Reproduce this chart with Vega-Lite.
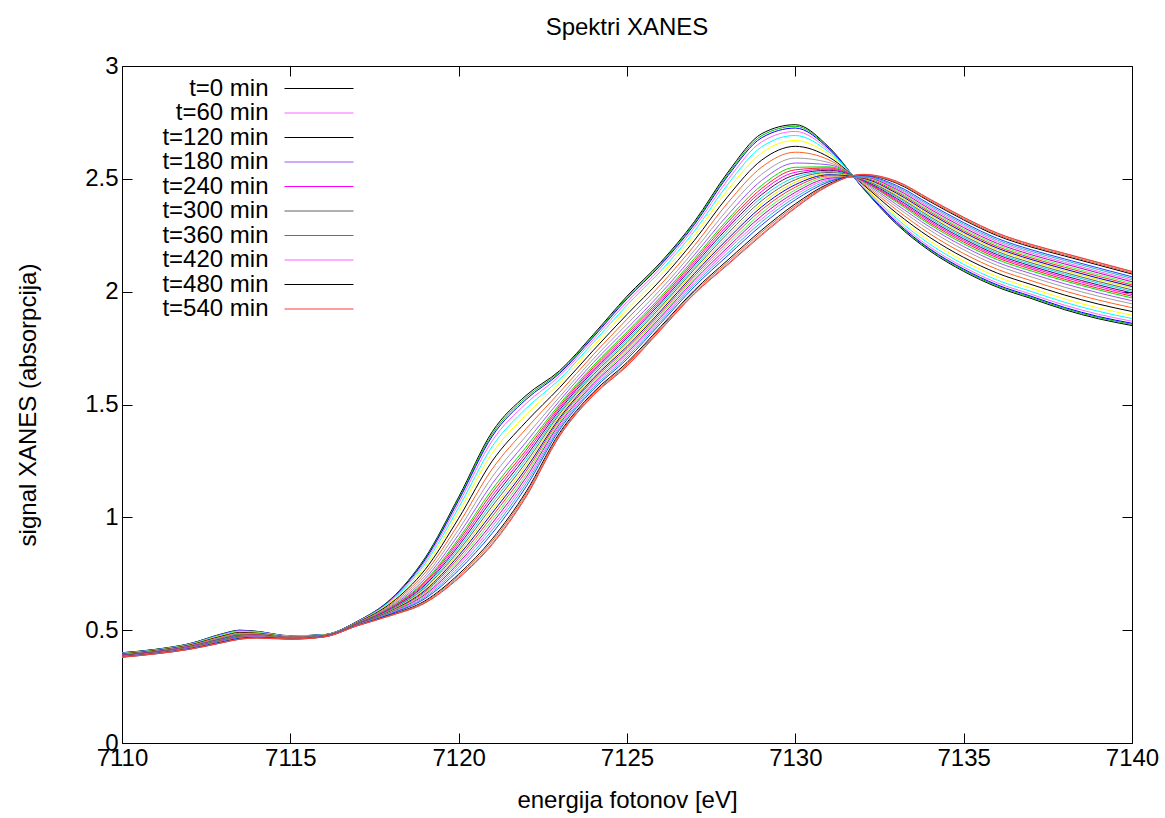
{
"$schema": "https://vega.github.io/schema/vega-lite/v6.json",
"width": 1010, "height": 677,
"autosize": {"type": "none"},
"padding": {"left": 122, "top": 66, "right": 33, "bottom": 75},
"background": "white",
"title": {"text": "Spektri XANES", "fontSize": 24, "font": "Liberation Sans", "fontWeight": "normal", "color": "black", "offset": 14, "anchor": "middle"},
"config": {"view": {"stroke": null}, "font": "Liberation Sans"},
"data": {"values": [
{"s":0,"x":7110,"y":0.4},{"s":0,"x":7111,"y":0.415},{"s":0,"x":7112,"y":0.44},{"s":0,"x":7113,"y":0.485},{"s":0,"x":7113.5,"y":0.5},{"s":0,"x":7114,"y":0.495},{"s":0,"x":7115,"y":0.475},{"s":0,"x":7116,"y":0.48},{"s":0,"x":7117,"y":0.54},{"s":0,"x":7118,"y":0.64},{"s":0,"x":7119,"y":0.82},{"s":0,"x":7120,"y":1.09},{"s":0,"x":7121,"y":1.38},{"s":0,"x":7122,"y":1.54},{"s":0,"x":7123,"y":1.65},{"s":0,"x":7124,"y":1.81},{"s":0,"x":7125,"y":1.98},{"s":0,"x":7126,"y":2.13},{"s":0,"x":7127,"y":2.31},{"s":0,"x":7128,"y":2.53},{"s":0,"x":7129,"y":2.7},{"s":0,"x":7130,"y":2.74},{"s":0,"x":7131,"y":2.64},{"s":0,"x":7132,"y":2.46},{"s":0,"x":7133,"y":2.3},{"s":0,"x":7134,"y":2.18},{"s":0,"x":7135,"y":2.09},{"s":0,"x":7136,"y":2.02},{"s":0,"x":7137,"y":1.97},{"s":0,"x":7138,"y":1.92},{"s":0,"x":7139,"y":1.88},{"s":0,"x":7140,"y":1.85},
{"s":1,"x":7110,"y":0.4},{"s":1,"x":7111,"y":0.415},{"s":1,"x":7112,"y":0.44},{"s":1,"x":7113,"y":0.484},{"s":1,"x":7113.5,"y":0.499},{"s":1,"x":7114,"y":0.494},{"s":1,"x":7115,"y":0.475},{"s":1,"x":7116,"y":0.48},{"s":1,"x":7117,"y":0.54},{"s":1,"x":7118,"y":0.638},{"s":1,"x":7119,"y":0.816},{"s":1,"x":7120,"y":1.083},{"s":1,"x":7121,"y":1.37},{"s":1,"x":7122,"y":1.531},{"s":1,"x":7123,"y":1.644},{"s":1,"x":7124,"y":1.805},{"s":1,"x":7125,"y":1.974},{"s":1,"x":7126,"y":2.124},{"s":1,"x":7127,"y":2.304},{"s":1,"x":7128,"y":2.522},{"s":1,"x":7129,"y":2.691},{"s":1,"x":7130,"y":2.733},{"s":1,"x":7131,"y":2.637},{"s":1,"x":7132,"y":2.461},{"s":1,"x":7133,"y":2.304},{"s":1,"x":7134,"y":2.185},{"s":1,"x":7135,"y":2.095},{"s":1,"x":7136,"y":2.025},{"s":1,"x":7137,"y":1.975},{"s":1,"x":7138,"y":1.925},{"s":1,"x":7139,"y":1.885},{"s":1,"x":7140,"y":1.855},
{"s":2,"x":7110,"y":0.399},{"s":2,"x":7111,"y":0.414},{"s":2,"x":7112,"y":0.439},{"s":2,"x":7113,"y":0.483},{"s":2,"x":7113.5,"y":0.498},{"s":2,"x":7114,"y":0.494},{"s":2,"x":7115,"y":0.474},{"s":2,"x":7116,"y":0.48},{"s":2,"x":7117,"y":0.539},{"s":2,"x":7118,"y":0.637},{"s":2,"x":7119,"y":0.812},{"s":2,"x":7120,"y":1.076},{"s":2,"x":7121,"y":1.36},{"s":2,"x":7122,"y":1.522},{"s":2,"x":7123,"y":1.638},{"s":2,"x":7124,"y":1.799},{"s":2,"x":7125,"y":1.968},{"s":2,"x":7126,"y":2.118},{"s":2,"x":7127,"y":2.297},{"s":2,"x":7128,"y":2.514},{"s":2,"x":7129,"y":2.682},{"s":2,"x":7130,"y":2.725},{"s":2,"x":7131,"y":2.633},{"s":2,"x":7132,"y":2.462},{"s":2,"x":7133,"y":2.308},{"s":2,"x":7134,"y":2.189},{"s":2,"x":7135,"y":2.1},{"s":2,"x":7136,"y":2.03},{"s":2,"x":7137,"y":1.98},{"s":2,"x":7138,"y":1.93},{"s":2,"x":7139,"y":1.89},{"s":2,"x":7140,"y":1.86},
{"s":3,"x":7110,"y":0.398},{"s":3,"x":7111,"y":0.413},{"s":3,"x":7112,"y":0.438},{"s":3,"x":7113,"y":0.482},{"s":3,"x":7113.5,"y":0.497},{"s":3,"x":7114,"y":0.493},{"s":3,"x":7115,"y":0.474},{"s":3,"x":7116,"y":0.479},{"s":3,"x":7117,"y":0.538},{"s":3,"x":7118,"y":0.634},{"s":3,"x":7119,"y":0.804},{"s":3,"x":7120,"y":1.061},{"s":3,"x":7121,"y":1.34},{"s":3,"x":7122,"y":1.504},{"s":3,"x":7123,"y":1.627},{"s":3,"x":7124,"y":1.788},{"s":3,"x":7125,"y":1.955},{"s":3,"x":7126,"y":2.106},{"s":3,"x":7127,"y":2.284},{"s":3,"x":7128,"y":2.497},{"s":3,"x":7129,"y":2.664},{"s":3,"x":7130,"y":2.71},{"s":3,"x":7131,"y":2.626},{"s":3,"x":7132,"y":2.465},{"s":3,"x":7133,"y":2.315},{"s":3,"x":7134,"y":2.198},{"s":3,"x":7135,"y":2.109},{"s":3,"x":7136,"y":2.039},{"s":3,"x":7137,"y":1.989},{"s":3,"x":7138,"y":1.94},{"s":3,"x":7139,"y":1.9},{"s":3,"x":7140,"y":1.869},
{"s":4,"x":7110,"y":0.397},{"s":4,"x":7111,"y":0.412},{"s":4,"x":7112,"y":0.437},{"s":4,"x":7113,"y":0.48},{"s":4,"x":7113.5,"y":0.495},{"s":4,"x":7114,"y":0.491},{"s":4,"x":7115,"y":0.473},{"s":4,"x":7116,"y":0.479},{"s":4,"x":7117,"y":0.537},{"s":4,"x":7118,"y":0.63},{"s":4,"x":7119,"y":0.794},{"s":4,"x":7120,"y":1.043},{"s":4,"x":7121,"y":1.315},{"s":4,"x":7122,"y":1.482},{"s":4,"x":7123,"y":1.612},{"s":4,"x":7124,"y":1.775},{"s":4,"x":7125,"y":1.94},{"s":4,"x":7126,"y":2.091},{"s":4,"x":7127,"y":2.268},{"s":4,"x":7128,"y":2.477},{"s":4,"x":7129,"y":2.642},{"s":4,"x":7130,"y":2.692},{"s":4,"x":7131,"y":2.618},{"s":4,"x":7132,"y":2.468},{"s":4,"x":7133,"y":2.325},{"s":4,"x":7134,"y":2.21},{"s":4,"x":7135,"y":2.121},{"s":4,"x":7136,"y":2.051},{"s":4,"x":7137,"y":2.001},{"s":4,"x":7138,"y":1.953},{"s":4,"x":7139,"y":1.913},{"s":4,"x":7140,"y":1.881},
{"s":5,"x":7110,"y":0.396},{"s":5,"x":7111,"y":0.411},{"s":5,"x":7112,"y":0.435},{"s":5,"x":7113,"y":0.477},{"s":5,"x":7113.5,"y":0.492},{"s":5,"x":7114,"y":0.489},{"s":5,"x":7115,"y":0.472},{"s":5,"x":7116,"y":0.478},{"s":5,"x":7117,"y":0.536},{"s":5,"x":7118,"y":0.626},{"s":5,"x":7119,"y":0.782},{"s":5,"x":7120,"y":1.022},{"s":5,"x":7121,"y":1.285},{"s":5,"x":7122,"y":1.455},{"s":5,"x":7123,"y":1.595},{"s":5,"x":7124,"y":1.759},{"s":5,"x":7125,"y":1.921},{"s":5,"x":7126,"y":2.073},{"s":5,"x":7127,"y":2.249},{"s":5,"x":7128,"y":2.452},{"s":5,"x":7129,"y":2.615},{"s":5,"x":7130,"y":2.67},{"s":5,"x":7131,"y":2.608},{"s":5,"x":7132,"y":2.471},{"s":5,"x":7133,"y":2.336},{"s":5,"x":7134,"y":2.224},{"s":5,"x":7135,"y":2.136},{"s":5,"x":7136,"y":2.066},{"s":5,"x":7137,"y":2.016},{"s":5,"x":7138,"y":1.968},{"s":5,"x":7139,"y":1.928},{"s":5,"x":7140,"y":1.896},
{"s":6,"x":7110,"y":0.395},{"s":6,"x":7111,"y":0.41},{"s":6,"x":7112,"y":0.434},{"s":6,"x":7113,"y":0.475},{"s":6,"x":7113.5,"y":0.49},{"s":6,"x":7114,"y":0.487},{"s":6,"x":7115,"y":0.471},{"s":6,"x":7116,"y":0.477},{"s":6,"x":7117,"y":0.535},{"s":6,"x":7118,"y":0.621},{"s":6,"x":7119,"y":0.768},{"s":6,"x":7120,"y":0.996},{"s":6,"x":7121,"y":1.25},{"s":6,"x":7122,"y":1.423},{"s":6,"x":7123,"y":1.575},{"s":6,"x":7124,"y":1.74},{"s":6,"x":7125,"y":1.899},{"s":6,"x":7126,"y":2.052},{"s":6,"x":7127,"y":2.227},{"s":6,"x":7128,"y":2.423},{"s":6,"x":7129,"y":2.583},{"s":6,"x":7130,"y":2.644},{"s":6,"x":7131,"y":2.596},{"s":6,"x":7132,"y":2.476},{"s":6,"x":7133,"y":2.349},{"s":6,"x":7134,"y":2.24},{"s":6,"x":7135,"y":2.152},{"s":6,"x":7136,"y":2.082},{"s":6,"x":7137,"y":2.032},{"s":6,"x":7138,"y":1.985},{"s":6,"x":7139,"y":1.945},{"s":6,"x":7140,"y":1.912},
{"s":7,"x":7110,"y":0.393},{"s":7,"x":7111,"y":0.408},{"s":7,"x":7112,"y":0.432},{"s":7,"x":7113,"y":0.472},{"s":7,"x":7113.5,"y":0.487},{"s":7,"x":7114,"y":0.485},{"s":7,"x":7115,"y":0.47},{"s":7,"x":7116,"y":0.477},{"s":7,"x":7117,"y":0.533},{"s":7,"x":7118,"y":0.615},{"s":7,"x":7119,"y":0.754},{"s":7,"x":7120,"y":0.971},{"s":7,"x":7121,"y":1.215},{"s":7,"x":7122,"y":1.392},{"s":7,"x":7123,"y":1.554},{"s":7,"x":7124,"y":1.721},{"s":7,"x":7125,"y":1.878},{"s":7,"x":7126,"y":2.031},{"s":7,"x":7127,"y":2.204},{"s":7,"x":7128,"y":2.395},{"s":7,"x":7129,"y":2.552},{"s":7,"x":7130,"y":2.618},{"s":7,"x":7131,"y":2.584},{"s":7,"x":7132,"y":2.48},{"s":7,"x":7133,"y":2.363},{"s":7,"x":7134,"y":2.256},{"s":7,"x":7135,"y":2.169},{"s":7,"x":7136,"y":2.099},{"s":7,"x":7137,"y":2.049},{"s":7,"x":7138,"y":2.003},{"s":7,"x":7139,"y":1.963},{"s":7,"x":7140,"y":1.929},
{"s":8,"x":7110,"y":0.392},{"s":8,"x":7111,"y":0.407},{"s":8,"x":7112,"y":0.43},{"s":8,"x":7113,"y":0.469},{"s":8,"x":7113.5,"y":0.484},{"s":8,"x":7114,"y":0.483},{"s":8,"x":7115,"y":0.469},{"s":8,"x":7116,"y":0.476},{"s":8,"x":7117,"y":0.532},{"s":8,"x":7118,"y":0.61},{"s":8,"x":7119,"y":0.74},{"s":8,"x":7120,"y":0.946},{"s":8,"x":7121,"y":1.18},{"s":8,"x":7122,"y":1.36},{"s":8,"x":7123,"y":1.534},{"s":8,"x":7124,"y":1.702},{"s":8,"x":7125,"y":1.856},{"s":8,"x":7126,"y":2.01},{"s":8,"x":7127,"y":2.182},{"s":8,"x":7128,"y":2.366},{"s":8,"x":7129,"y":2.52},{"s":8,"x":7130,"y":2.592},{"s":8,"x":7131,"y":2.572},{"s":8,"x":7132,"y":2.484},{"s":8,"x":7133,"y":2.376},{"s":8,"x":7134,"y":2.272},{"s":8,"x":7135,"y":2.186},{"s":8,"x":7136,"y":2.116},{"s":8,"x":7137,"y":2.066},{"s":8,"x":7138,"y":2.02},{"s":8,"x":7139,"y":1.98},{"s":8,"x":7140,"y":1.946},
{"s":9,"x":7110,"y":0.391},{"s":9,"x":7111,"y":0.406},{"s":9,"x":7112,"y":0.429},{"s":9,"x":7113,"y":0.467},{"s":9,"x":7113.5,"y":0.482},{"s":9,"x":7114,"y":0.481},{"s":9,"x":7115,"y":0.468},{"s":9,"x":7116,"y":0.475},{"s":9,"x":7117,"y":0.531},{"s":9,"x":7118,"y":0.606},{"s":9,"x":7119,"y":0.728},{"s":9,"x":7120,"y":0.924},{"s":9,"x":7121,"y":1.15},{"s":9,"x":7122,"y":1.333},{"s":9,"x":7123,"y":1.517},{"s":9,"x":7124,"y":1.686},{"s":9,"x":7125,"y":1.837},{"s":9,"x":7126,"y":1.992},{"s":9,"x":7127,"y":2.163},{"s":9,"x":7128,"y":2.341},{"s":9,"x":7129,"y":2.493},{"s":9,"x":7130,"y":2.57},{"s":9,"x":7131,"y":2.562},{"s":9,"x":7132,"y":2.488},{"s":9,"x":7133,"y":2.387},{"s":9,"x":7134,"y":2.286},{"s":9,"x":7135,"y":2.2},{"s":9,"x":7136,"y":2.13},{"s":9,"x":7137,"y":2.08},{"s":9,"x":7138,"y":2.035},{"s":9,"x":7139,"y":1.995},{"s":9,"x":7140,"y":1.96},
{"s":10,"x":7110,"y":0.39},{"s":10,"x":7111,"y":0.405},{"s":10,"x":7112,"y":0.427},{"s":10,"x":7113,"y":0.465},{"s":10,"x":7113.5,"y":0.48},{"s":10,"x":7114,"y":0.48},{"s":10,"x":7115,"y":0.467},{"s":10,"x":7116,"y":0.475},{"s":10,"x":7117,"y":0.53},{"s":10,"x":7118,"y":0.602},{"s":10,"x":7119,"y":0.718},{"s":10,"x":7120,"y":0.906},{"s":10,"x":7121,"y":1.125},{"s":10,"x":7122,"y":1.311},{"s":10,"x":7123,"y":1.502},{"s":10,"x":7124,"y":1.672},{"s":10,"x":7125,"y":1.822},{"s":10,"x":7126,"y":1.977},{"s":10,"x":7127,"y":2.147},{"s":10,"x":7128,"y":2.321},{"s":10,"x":7129,"y":2.471},{"s":10,"x":7130,"y":2.551},{"s":10,"x":7131,"y":2.553},{"s":10,"x":7132,"y":2.491},{"s":10,"x":7133,"y":2.397},{"s":10,"x":7134,"y":2.297},{"s":10,"x":7135,"y":2.212},{"s":10,"x":7136,"y":2.142},{"s":10,"x":7137,"y":2.092},{"s":10,"x":7138,"y":2.048},{"s":10,"x":7139,"y":2.008},{"s":10,"x":7140,"y":1.972},
{"s":11,"x":7110,"y":0.389},{"s":11,"x":7111,"y":0.404},{"s":11,"x":7112,"y":0.427},{"s":11,"x":7113,"y":0.463},{"s":11,"x":7113.5,"y":0.478},{"s":11,"x":7114,"y":0.479},{"s":11,"x":7115,"y":0.467},{"s":11,"x":7116,"y":0.475},{"s":11,"x":7117,"y":0.529},{"s":11,"x":7118,"y":0.6},{"s":11,"x":7119,"y":0.712},{"s":11,"x":7120,"y":0.896},{"s":11,"x":7121,"y":1.11},{"s":11,"x":7122,"y":1.297},{"s":11,"x":7123,"y":1.493},{"s":11,"x":7124,"y":1.664},{"s":11,"x":7125,"y":1.813},{"s":11,"x":7126,"y":1.968},{"s":11,"x":7127,"y":2.137},{"s":11,"x":7128,"y":2.309},{"s":11,"x":7129,"y":2.457},{"s":11,"x":7130,"y":2.54},{"s":11,"x":7131,"y":2.548},{"s":11,"x":7132,"y":2.492},{"s":11,"x":7133,"y":2.403},{"s":11,"x":7134,"y":2.304},{"s":11,"x":7135,"y":2.22},{"s":11,"x":7136,"y":2.15},{"s":11,"x":7137,"y":2.1},{"s":11,"x":7138,"y":2.055},{"s":11,"x":7139,"y":2.015},{"s":11,"x":7140,"y":1.98},
{"s":12,"x":7110,"y":0.389},{"s":12,"x":7111,"y":0.404},{"s":12,"x":7112,"y":0.426},{"s":12,"x":7113,"y":0.462},{"s":12,"x":7113.5,"y":0.477},{"s":12,"x":7114,"y":0.478},{"s":12,"x":7115,"y":0.466},{"s":12,"x":7116,"y":0.474},{"s":12,"x":7117,"y":0.529},{"s":12,"x":7118,"y":0.597},{"s":12,"x":7119,"y":0.706},{"s":12,"x":7120,"y":0.885},{"s":12,"x":7121,"y":1.095},{"s":12,"x":7122,"y":1.284},{"s":12,"x":7123,"y":1.485},{"s":12,"x":7124,"y":1.656},{"s":12,"x":7125,"y":1.803},{"s":12,"x":7126,"y":1.959},{"s":12,"x":7127,"y":2.128},{"s":12,"x":7128,"y":2.296},{"s":12,"x":7129,"y":2.444},{"s":12,"x":7130,"y":2.529},{"s":12,"x":7131,"y":2.543},{"s":12,"x":7132,"y":2.494},{"s":12,"x":7133,"y":2.408},{"s":12,"x":7134,"y":2.311},{"s":12,"x":7135,"y":2.227},{"s":12,"x":7136,"y":2.157},{"s":12,"x":7137,"y":2.107},{"s":12,"x":7138,"y":2.063},{"s":12,"x":7139,"y":2.023},{"s":12,"x":7140,"y":1.987},
{"s":13,"x":7110,"y":0.388},{"s":13,"x":7111,"y":0.403},{"s":13,"x":7112,"y":0.425},{"s":13,"x":7113,"y":0.461},{"s":13,"x":7113.5,"y":0.476},{"s":13,"x":7114,"y":0.477},{"s":13,"x":7115,"y":0.466},{"s":13,"x":7116,"y":0.474},{"s":13,"x":7117,"y":0.528},{"s":13,"x":7118,"y":0.595},{"s":13,"x":7119,"y":0.7},{"s":13,"x":7120,"y":0.874},{"s":13,"x":7121,"y":1.08},{"s":13,"x":7122,"y":1.27},{"s":13,"x":7123,"y":1.476},{"s":13,"x":7124,"y":1.648},{"s":13,"x":7125,"y":1.794},{"s":13,"x":7126,"y":1.95},{"s":13,"x":7127,"y":2.118},{"s":13,"x":7128,"y":2.284},{"s":13,"x":7129,"y":2.43},{"s":13,"x":7130,"y":2.518},{"s":13,"x":7131,"y":2.538},{"s":13,"x":7132,"y":2.496},{"s":13,"x":7133,"y":2.414},{"s":13,"x":7134,"y":2.318},{"s":13,"x":7135,"y":2.234},{"s":13,"x":7136,"y":2.164},{"s":13,"x":7137,"y":2.114},{"s":13,"x":7138,"y":2.07},{"s":13,"x":7139,"y":2.03},{"s":13,"x":7140,"y":1.994},
{"s":14,"x":7110,"y":0.387},{"s":14,"x":7111,"y":0.402},{"s":14,"x":7112,"y":0.424},{"s":14,"x":7113,"y":0.46},{"s":14,"x":7113.5,"y":0.475},{"s":14,"x":7114,"y":0.476},{"s":14,"x":7115,"y":0.466},{"s":14,"x":7116,"y":0.474},{"s":14,"x":7117,"y":0.527},{"s":14,"x":7118,"y":0.593},{"s":14,"x":7119,"y":0.694},{"s":14,"x":7120,"y":0.863},{"s":14,"x":7121,"y":1.065},{"s":14,"x":7122,"y":1.257},{"s":14,"x":7123,"y":1.467},{"s":14,"x":7124,"y":1.64},{"s":14,"x":7125,"y":1.785},{"s":14,"x":7126,"y":1.941},{"s":14,"x":7127,"y":2.108},{"s":14,"x":7128,"y":2.272},{"s":14,"x":7129,"y":2.417},{"s":14,"x":7130,"y":2.507},{"s":14,"x":7131,"y":2.533},{"s":14,"x":7132,"y":2.498},{"s":14,"x":7133,"y":2.42},{"s":14,"x":7134,"y":2.325},{"s":14,"x":7135,"y":2.241},{"s":14,"x":7136,"y":2.171},{"s":14,"x":7137,"y":2.121},{"s":14,"x":7138,"y":2.078},{"s":14,"x":7139,"y":2.038},{"s":14,"x":7140,"y":2.001},
{"s":15,"x":7110,"y":0.387},{"s":15,"x":7111,"y":0.402},{"s":15,"x":7112,"y":0.424},{"s":15,"x":7113,"y":0.459},{"s":15,"x":7113.5,"y":0.474},{"s":15,"x":7114,"y":0.475},{"s":15,"x":7115,"y":0.465},{"s":15,"x":7116,"y":0.473},{"s":15,"x":7117,"y":0.527},{"s":15,"x":7118,"y":0.591},{"s":15,"x":7119,"y":0.688},{"s":15,"x":7120,"y":0.852},{"s":15,"x":7121,"y":1.05},{"s":15,"x":7122,"y":1.243},{"s":15,"x":7123,"y":1.459},{"s":15,"x":7124,"y":1.632},{"s":15,"x":7125,"y":1.775},{"s":15,"x":7126,"y":1.932},{"s":15,"x":7127,"y":2.099},{"s":15,"x":7128,"y":2.259},{"s":15,"x":7129,"y":2.403},{"s":15,"x":7130,"y":2.496},{"s":15,"x":7131,"y":2.528},{"s":15,"x":7132,"y":2.5},{"s":15,"x":7133,"y":2.425},{"s":15,"x":7134,"y":2.332},{"s":15,"x":7135,"y":2.248},{"s":15,"x":7136,"y":2.178},{"s":15,"x":7137,"y":2.128},{"s":15,"x":7138,"y":2.085},{"s":15,"x":7139,"y":2.045},{"s":15,"x":7140,"y":2.008},
{"s":16,"x":7110,"y":0.386},{"s":16,"x":7111,"y":0.401},{"s":16,"x":7112,"y":0.423},{"s":16,"x":7113,"y":0.457},{"s":16,"x":7113.5,"y":0.472},{"s":16,"x":7114,"y":0.474},{"s":16,"x":7115,"y":0.465},{"s":16,"x":7116,"y":0.473},{"s":16,"x":7117,"y":0.526},{"s":16,"x":7118,"y":0.588},{"s":16,"x":7119,"y":0.682},{"s":16,"x":7120,"y":0.842},{"s":16,"x":7121,"y":1.035},{"s":16,"x":7122,"y":1.23},{"s":16,"x":7123,"y":1.45},{"s":16,"x":7124,"y":1.624},{"s":16,"x":7125,"y":1.766},{"s":16,"x":7126,"y":1.923},{"s":16,"x":7127,"y":2.089},{"s":16,"x":7128,"y":2.247},{"s":16,"x":7129,"y":2.39},{"s":16,"x":7130,"y":2.485},{"s":16,"x":7131,"y":2.523},{"s":16,"x":7132,"y":2.501},{"s":16,"x":7133,"y":2.431},{"s":16,"x":7134,"y":2.339},{"s":16,"x":7135,"y":2.256},{"s":16,"x":7136,"y":2.186},{"s":16,"x":7137,"y":2.136},{"s":16,"x":7138,"y":2.093},{"s":16,"x":7139,"y":2.053},{"s":16,"x":7140,"y":2.016},
{"s":17,"x":7110,"y":0.386},{"s":17,"x":7111,"y":0.401},{"s":17,"x":7112,"y":0.422},{"s":17,"x":7113,"y":0.456},{"s":17,"x":7113.5,"y":0.471},{"s":17,"x":7114,"y":0.473},{"s":17,"x":7115,"y":0.464},{"s":17,"x":7116,"y":0.473},{"s":17,"x":7117,"y":0.526},{"s":17,"x":7118,"y":0.586},{"s":17,"x":7119,"y":0.676},{"s":17,"x":7120,"y":0.831},{"s":17,"x":7121,"y":1.02},{"s":17,"x":7122,"y":1.216},{"s":17,"x":7123,"y":1.441},{"s":17,"x":7124,"y":1.616},{"s":17,"x":7125,"y":1.757},{"s":17,"x":7126,"y":1.914},{"s":17,"x":7127,"y":2.08},{"s":17,"x":7128,"y":2.235},{"s":17,"x":7129,"y":2.376},{"s":17,"x":7130,"y":2.474},{"s":17,"x":7131,"y":2.518},{"s":17,"x":7132,"y":2.503},{"s":17,"x":7133,"y":2.437},{"s":17,"x":7134,"y":2.346},{"s":17,"x":7135,"y":2.263},{"s":17,"x":7136,"y":2.193},{"s":17,"x":7137,"y":2.143},{"s":17,"x":7138,"y":2.1},{"s":17,"x":7139,"y":2.06},{"s":17,"x":7140,"y":2.023},
{"s":18,"x":7110,"y":0.385},{"s":18,"x":7111,"y":0.4},{"s":18,"x":7112,"y":0.421},{"s":18,"x":7113,"y":0.455},{"s":18,"x":7113.5,"y":0.47},{"s":18,"x":7114,"y":0.473},{"s":18,"x":7115,"y":0.464},{"s":18,"x":7116,"y":0.473},{"s":18,"x":7117,"y":0.525},{"s":18,"x":7118,"y":0.584},{"s":18,"x":7119,"y":0.67},{"s":18,"x":7120,"y":0.82},{"s":18,"x":7121,"y":1.005},{"s":18,"x":7122,"y":1.203},{"s":18,"x":7123,"y":1.433},{"s":18,"x":7124,"y":1.608},{"s":18,"x":7125,"y":1.748},{"s":18,"x":7126,"y":1.905},{"s":18,"x":7127,"y":2.07},{"s":18,"x":7128,"y":2.223},{"s":18,"x":7129,"y":2.363},{"s":18,"x":7130,"y":2.463},{"s":18,"x":7131,"y":2.513},{"s":18,"x":7132,"y":2.505},{"s":18,"x":7133,"y":2.443},{"s":18,"x":7134,"y":2.353},{"s":18,"x":7135,"y":2.27},{"s":18,"x":7136,"y":2.2},{"s":18,"x":7137,"y":2.15},{"s":18,"x":7138,"y":2.108},{"s":18,"x":7139,"y":2.068},{"s":18,"x":7140,"y":2.03},
{"s":19,"x":7110,"y":0.384},{"s":19,"x":7111,"y":0.399},{"s":19,"x":7112,"y":0.421},{"s":19,"x":7113,"y":0.454},{"s":19,"x":7113.5,"y":0.469},{"s":19,"x":7114,"y":0.472},{"s":19,"x":7115,"y":0.463},{"s":19,"x":7116,"y":0.472},{"s":19,"x":7117,"y":0.524},{"s":19,"x":7118,"y":0.582},{"s":19,"x":7119,"y":0.664},{"s":19,"x":7120,"y":0.809},{"s":19,"x":7121,"y":0.99},{"s":19,"x":7122,"y":1.189},{"s":19,"x":7123,"y":1.424},{"s":19,"x":7124,"y":1.599},{"s":19,"x":7125,"y":1.738},{"s":19,"x":7126,"y":1.896},{"s":19,"x":7127,"y":2.06},{"s":19,"x":7128,"y":2.21},{"s":19,"x":7129,"y":2.349},{"s":19,"x":7130,"y":2.451},{"s":19,"x":7131,"y":2.507},{"s":19,"x":7132,"y":2.507},{"s":19,"x":7133,"y":2.448},{"s":19,"x":7134,"y":2.359},{"s":19,"x":7135,"y":2.277},{"s":19,"x":7136,"y":2.207},{"s":19,"x":7137,"y":2.157},{"s":19,"x":7138,"y":2.115},{"s":19,"x":7139,"y":2.075},{"s":19,"x":7140,"y":2.037},
{"s":20,"x":7110,"y":0.384},{"s":20,"x":7111,"y":0.399},{"s":20,"x":7112,"y":0.42},{"s":20,"x":7113,"y":0.453},{"s":20,"x":7113.5,"y":0.468},{"s":20,"x":7114,"y":0.471},{"s":20,"x":7115,"y":0.463},{"s":20,"x":7116,"y":0.472},{"s":20,"x":7117,"y":0.524},{"s":20,"x":7118,"y":0.579},{"s":20,"x":7119,"y":0.658},{"s":20,"x":7120,"y":0.798},{"s":20,"x":7121,"y":0.975},{"s":20,"x":7122,"y":1.176},{"s":20,"x":7123,"y":1.415},{"s":20,"x":7124,"y":1.591},{"s":20,"x":7125,"y":1.729},{"s":20,"x":7126,"y":1.887},{"s":20,"x":7127,"y":2.051},{"s":20,"x":7128,"y":2.198},{"s":20,"x":7129,"y":2.336},{"s":20,"x":7130,"y":2.44},{"s":20,"x":7131,"y":2.502},{"s":20,"x":7132,"y":2.509},{"s":20,"x":7133,"y":2.454},{"s":20,"x":7134,"y":2.366},{"s":20,"x":7135,"y":2.284},{"s":20,"x":7136,"y":2.214},{"s":20,"x":7137,"y":2.164},{"s":20,"x":7138,"y":2.123},{"s":20,"x":7139,"y":2.083},{"s":20,"x":7140,"y":2.044},
{"s":21,"x":7110,"y":0.383},{"s":21,"x":7111,"y":0.398},{"s":21,"x":7112,"y":0.419},{"s":21,"x":7113,"y":0.451},{"s":21,"x":7113.5,"y":0.466},{"s":21,"x":7114,"y":0.47},{"s":21,"x":7115,"y":0.462},{"s":21,"x":7116,"y":0.472},{"s":21,"x":7117,"y":0.523},{"s":21,"x":7118,"y":0.577},{"s":21,"x":7119,"y":0.652},{"s":21,"x":7120,"y":0.788},{"s":21,"x":7121,"y":0.96},{"s":21,"x":7122,"y":1.162},{"s":21,"x":7123,"y":1.406},{"s":21,"x":7124,"y":1.583},{"s":21,"x":7125,"y":1.72},{"s":21,"x":7126,"y":1.878},{"s":21,"x":7127,"y":2.041},{"s":21,"x":7128,"y":2.186},{"s":21,"x":7129,"y":2.322},{"s":21,"x":7130,"y":2.429},{"s":21,"x":7131,"y":2.497},{"s":21,"x":7132,"y":2.51},{"s":21,"x":7133,"y":2.46},{"s":21,"x":7134,"y":2.373},{"s":21,"x":7135,"y":2.292},{"s":21,"x":7136,"y":2.222},{"s":21,"x":7137,"y":2.172},{"s":21,"x":7138,"y":2.13},{"s":21,"x":7139,"y":2.09},{"s":21,"x":7140,"y":2.052},
{"s":22,"x":7110,"y":0.383},{"s":22,"x":7111,"y":0.398},{"s":22,"x":7112,"y":0.418},{"s":22,"x":7113,"y":0.45},{"s":22,"x":7113.5,"y":0.465},{"s":22,"x":7114,"y":0.469},{"s":22,"x":7115,"y":0.462},{"s":22,"x":7116,"y":0.471},{"s":22,"x":7117,"y":0.523},{"s":22,"x":7118,"y":0.575},{"s":22,"x":7119,"y":0.646},{"s":22,"x":7120,"y":0.777},{"s":22,"x":7121,"y":0.945},{"s":22,"x":7122,"y":1.149},{"s":22,"x":7123,"y":1.398},{"s":22,"x":7124,"y":1.575},{"s":22,"x":7125,"y":1.71},{"s":22,"x":7126,"y":1.869},{"s":22,"x":7127,"y":2.032},{"s":22,"x":7128,"y":2.173},{"s":22,"x":7129,"y":2.309},{"s":22,"x":7130,"y":2.418},{"s":22,"x":7131,"y":2.492},{"s":22,"x":7132,"y":2.512},{"s":22,"x":7133,"y":2.465},{"s":22,"x":7134,"y":2.38},{"s":22,"x":7135,"y":2.299},{"s":22,"x":7136,"y":2.229},{"s":22,"x":7137,"y":2.179},{"s":22,"x":7138,"y":2.138},{"s":22,"x":7139,"y":2.098},{"s":22,"x":7140,"y":2.059},
{"s":23,"x":7110,"y":0.382},{"s":23,"x":7111,"y":0.397},{"s":23,"x":7112,"y":0.418},{"s":23,"x":7113,"y":0.449},{"s":23,"x":7113.5,"y":0.464},{"s":23,"x":7114,"y":0.468},{"s":23,"x":7115,"y":0.462},{"s":23,"x":7116,"y":0.471},{"s":23,"x":7117,"y":0.522},{"s":23,"x":7118,"y":0.573},{"s":23,"x":7119,"y":0.64},{"s":23,"x":7120,"y":0.766},{"s":23,"x":7121,"y":0.93},{"s":23,"x":7122,"y":1.135},{"s":23,"x":7123,"y":1.389},{"s":23,"x":7124,"y":1.567},{"s":23,"x":7125,"y":1.701},{"s":23,"x":7126,"y":1.86},{"s":23,"x":7127,"y":2.022},{"s":23,"x":7128,"y":2.161},{"s":23,"x":7129,"y":2.295},{"s":23,"x":7130,"y":2.407},{"s":23,"x":7131,"y":2.487},{"s":23,"x":7132,"y":2.514},{"s":23,"x":7133,"y":2.471},{"s":23,"x":7134,"y":2.387},{"s":23,"x":7135,"y":2.306},{"s":23,"x":7136,"y":2.236},{"s":23,"x":7137,"y":2.186},{"s":23,"x":7138,"y":2.145},{"s":23,"x":7139,"y":2.105},{"s":23,"x":7140,"y":2.066},
{"s":24,"x":7110,"y":0.381},{"s":24,"x":7111,"y":0.396},{"s":24,"x":7112,"y":0.416},{"s":24,"x":7113,"y":0.447},{"s":24,"x":7113.5,"y":0.462},{"s":24,"x":7114,"y":0.467},{"s":24,"x":7115,"y":0.461},{"s":24,"x":7116,"y":0.471},{"s":24,"x":7117,"y":0.521},{"s":24,"x":7118,"y":0.569},{"s":24,"x":7119,"y":0.63},{"s":24,"x":7120,"y":0.748},{"s":24,"x":7121,"y":0.905},{"s":24,"x":7122,"y":1.113},{"s":24,"x":7123,"y":1.375},{"s":24,"x":7124,"y":1.554},{"s":24,"x":7125,"y":1.686},{"s":24,"x":7126,"y":1.845},{"s":24,"x":7127,"y":2.006},{"s":24,"x":7128,"y":2.141},{"s":24,"x":7129,"y":2.273},{"s":24,"x":7130,"y":2.389},{"s":24,"x":7131,"y":2.479},{"s":24,"x":7132,"y":2.517},{"s":24,"x":7133,"y":2.481},{"s":24,"x":7134,"y":2.399},{"s":24,"x":7135,"y":2.318},{"s":24,"x":7136,"y":2.248},{"s":24,"x":7137,"y":2.198},{"s":24,"x":7138,"y":2.158},{"s":24,"x":7139,"y":2.118},{"s":24,"x":7140,"y":2.078},
{"s":25,"x":7110,"y":0.381},{"s":25,"x":7111,"y":0.396},{"s":25,"x":7112,"y":0.416},{"s":25,"x":7113,"y":0.446},{"s":25,"x":7113.5,"y":0.461},{"s":25,"x":7114,"y":0.466},{"s":25,"x":7115,"y":0.461},{"s":25,"x":7116,"y":0.47},{"s":25,"x":7117,"y":0.521},{"s":25,"x":7118,"y":0.567},{"s":25,"x":7119,"y":0.626},{"s":25,"x":7120,"y":0.741},{"s":25,"x":7121,"y":0.895},{"s":25,"x":7122,"y":1.104},{"s":25,"x":7123,"y":1.369},{"s":25,"x":7124,"y":1.548},{"s":25,"x":7125,"y":1.679},{"s":25,"x":7126,"y":1.839},{"s":25,"x":7127,"y":2.0},{"s":25,"x":7128,"y":2.132},{"s":25,"x":7129,"y":2.264},{"s":25,"x":7130,"y":2.381},{"s":25,"x":7131,"y":2.475},{"s":25,"x":7132,"y":2.518},{"s":25,"x":7133,"y":2.484},{"s":25,"x":7134,"y":2.403},{"s":25,"x":7135,"y":2.323},{"s":25,"x":7136,"y":2.253},{"s":25,"x":7137,"y":2.203},{"s":25,"x":7138,"y":2.163},{"s":25,"x":7139,"y":2.123},{"s":25,"x":7140,"y":2.083},
{"s":26,"x":7110,"y":0.38},{"s":26,"x":7111,"y":0.395},{"s":26,"x":7112,"y":0.415},{"s":26,"x":7113,"y":0.445},{"s":26,"x":7113.5,"y":0.46},{"s":26,"x":7114,"y":0.465},{"s":26,"x":7115,"y":0.46},{"s":26,"x":7116,"y":0.47},{"s":26,"x":7117,"y":0.52},{"s":26,"x":7118,"y":0.566},{"s":26,"x":7119,"y":0.622},{"s":26,"x":7120,"y":0.734},{"s":26,"x":7121,"y":0.885},{"s":26,"x":7122,"y":1.095},{"s":26,"x":7123,"y":1.363},{"s":26,"x":7124,"y":1.543},{"s":26,"x":7125,"y":1.673},{"s":26,"x":7126,"y":1.833},{"s":26,"x":7127,"y":1.993},{"s":26,"x":7128,"y":2.124},{"s":26,"x":7129,"y":2.255},{"s":26,"x":7130,"y":2.374},{"s":26,"x":7131,"y":2.472},{"s":26,"x":7132,"y":2.519},{"s":26,"x":7133,"y":2.488},{"s":26,"x":7134,"y":2.408},{"s":26,"x":7135,"y":2.328},{"s":26,"x":7136,"y":2.258},{"s":26,"x":7137,"y":2.208},{"s":26,"x":7138,"y":2.168},{"s":26,"x":7139,"y":2.128},{"s":26,"x":7140,"y":2.088},
{"s":27,"x":7110,"y":0.38},{"s":27,"x":7111,"y":0.395},{"s":27,"x":7112,"y":0.415},{"s":27,"x":7113,"y":0.445},{"s":27,"x":7113.5,"y":0.46},{"s":27,"x":7114,"y":0.465},{"s":27,"x":7115,"y":0.46},{"s":27,"x":7116,"y":0.47},{"s":27,"x":7117,"y":0.52},{"s":27,"x":7118,"y":0.565},{"s":27,"x":7119,"y":0.62},{"s":27,"x":7120,"y":0.73},{"s":27,"x":7121,"y":0.88},{"s":27,"x":7122,"y":1.09},{"s":27,"x":7123,"y":1.36},{"s":27,"x":7124,"y":1.54},{"s":27,"x":7125,"y":1.67},{"s":27,"x":7126,"y":1.83},{"s":27,"x":7127,"y":1.99},{"s":27,"x":7128,"y":2.12},{"s":27,"x":7129,"y":2.25},{"s":27,"x":7130,"y":2.37},{"s":27,"x":7131,"y":2.47},{"s":27,"x":7132,"y":2.52},{"s":27,"x":7133,"y":2.49},{"s":27,"x":7134,"y":2.41},{"s":27,"x":7135,"y":2.33},{"s":27,"x":7136,"y":2.26},{"s":27,"x":7137,"y":2.21},{"s":27,"x":7138,"y":2.17},{"s":27,"x":7139,"y":2.13},{"s":27,"x":7140,"y":2.09}
]},
"layer": [
{"mark": {"type": "line", "strokeWidth": 1, "interpolate": "monotone"},
 "encoding": {
  "x": {"field": "x", "type": "quantitative", "scale": {"domain": [7110, 7140], "nice": false, "zero": false},
        "axis": {"orient": "bottom", "values": [7110,7115,7120,7125,7130,7135,7140], "format": "d", "title": "energija fotonov [eV]", "grid": false,
                 "tickSize": -10, "tickColor": "black", "domainColor": "black", "labelColor": "black", "labelFont": "Liberation Sans", "labelFontSize": 24,
                 "labelPadding": 13, "labelFlush": false, "labelOverlap": false, "titleFont": "Liberation Sans", "titleFontSize": 24, "titleFontWeight": "normal", "titleColor": "black", "titlePadding": 18}},
  "y": {"field": "y", "type": "quantitative", "scale": {"domain": [0, 3], "nice": false},
        "axis": {"orient": "left", "values": [0,0.5,1,1.5,2,2.5,3], "format": "~g", "title": "signal XANES (absorpcija)", "grid": false,
                 "tickSize": -10, "tickColor": "black", "domainColor": "black", "labelColor": "black", "labelFont": "Liberation Sans", "labelFontSize": 24,
                 "labelPadding": 14, "labelFlush": false, "labelOverlap": false, "titleFont": "Liberation Sans", "titleFontSize": 24, "titleFontWeight": "normal", "titleColor": "black", "titlePadding": 44}},
  "color": {"field": "s", "type": "nominal",
    "scale": {"domain": [0,1,2,3,4,5,6,7,8,9,10,11,12,13,14,15,16,17,18,19,20,21,22,23,24,25,26,27],
              "range": ["#000000","#00c000","#0000ff","#ff66ff","#00ffff","#ffff00","#000000","#ff6020","#a0a0a0","#a050ff","#00e000","#ff2020","#ff00ff","#600060","#00e0e0","#606060","#e8e800","#0000c0","#ff3030","#40ff40","#c000c0","#ff60ff","#20c0c0","#2040ff","#000000","#ff5020","#909090","#ff3a3a"]},
    "legend": {"title": null, "orient": "none", "legendX": 185, "legendY": 10.5, "values": [0,3,6,9,12,15,18,21,24,27],
               "labelExpr": "'t=' + (datum.value * 20) + ' min'", "labelFont": "Liberation Sans", "labelFontSize": 24, "labelColor": "black",
               "labelAlign": "right", "labelOffset": -62.5, "labelLimit": 0, "symbolType": "M-6.9,0H6.9", "symbolSize": 100, "symbolStrokeWidth": 1,
               "symbolOffset": 0, "symbolOpacity": 1, "rowPadding": 0.5, "padding": 0}}
 }},
{"mark": {"type": "point", "opacity": 0},
 "encoding": {
  "x": {"field": "x", "type": "quantitative", "axis": {"orient": "top", "values": [7110,7115,7120,7125,7130,7135,7140], "labels": false, "title": null, "grid": false, "tickSize": -10, "tickColor": "black", "domainColor": "black"}},
  "y": {"field": "y", "type": "quantitative", "axis": {"orient": "right", "values": [0,0.5,1,1.5,2,2.5,3], "labels": false, "title": null, "grid": false, "tickSize": -10, "tickColor": "black", "domainColor": "black"}}
 }}
],
"resolve": {"axis": {"x": "independent", "y": "independent"}}
}
